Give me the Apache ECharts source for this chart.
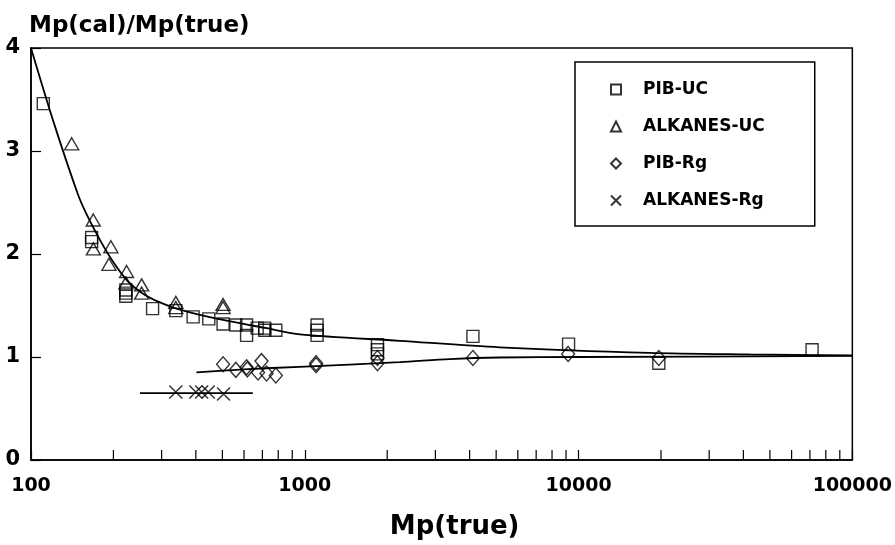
<!DOCTYPE html>
<html lang="en">

<head>
    <meta charset="UTF-8">
    <title>Mp(cal)/Mp(true)</title>
    <style>
        body { margin: 0; background: #fff; }
        #chart { width: 895px; height: 545px; }
    </style>
</head>

<body onload="setup()">
    <div id="chart"></div>
    <script src="https://cdn.jsdelivr.net/npm/echarts@6/dist/echarts.min.js"></script>
    <script>
        // values: [Mp(true), Mp(cal)/Mp(true)]
        var pibUC = [[110.9, 3.46], [166.5, 2.16], [166.5, 2.12], [222, 1.65], [222, 1.62], [222, 1.59],
            [278, 1.47], [338, 1.45], [391, 1.39], [446, 1.37], [503, 1.32], [560, 1.31], [613, 1.31],
            [613, 1.21], [670, 1.28], [714, 1.28], [714, 1.26], [784, 1.26], [1109, 1.31], [1109, 1.26],
            [1109, 1.21], [1843, 1.12], [1843, 1.07], [1843, 1.03], [4113, 1.20], [9194, 1.125],
            [19640, 0.94], [71270, 1.07]]
        var alkanesUC = [[140.8, 3.07], [168.8, 2.33], [169, 2.05], [195.8, 2.07], [192.6, 1.90],
            [223.4, 1.83], [222, 1.72], [253.5, 1.70], [253.5, 1.62], [338, 1.53], [338, 1.48],
            [503, 1.51], [503, 1.48]]
        var pibRg = [[503, 0.93], [560, 0.875], [613, 0.90], [617, 0.88], [675, 0.85], [695, 0.96],
            [725, 0.84], [784, 0.82], [1100, 0.94], [1100, 0.92], [1843, 0.99], [1843, 0.94],
            [4113, 0.99], [9160, 1.03], [19640, 0.99]]
        var alkanesRg = [[338, 0.66], [400, 0.66], [420, 0.66], [444, 0.66], [505, 0.64]]

        // fitted curves
        var fitUC = [[100, 4.0], [120.6, 3.29], [148.8, 2.57], [160, 2.38], [180, 2.12], [200, 1.92],
            [225, 1.74], [255, 1.62], [290, 1.54], [340, 1.47], [414, 1.41], [548, 1.34], [725, 1.28],
            [959, 1.22], [2222, 1.157], [5150, 1.094], [18160, 1.04], [42080, 1.025], [100000, 1.015]]
        var fitPibRg = [[402, 0.85], [600, 0.88], [955, 0.905], [2222, 0.95], [3383, 0.98],
            [5150, 0.995], [10000, 1.0], [100000, 1.01]]
        var fitAlkRg = [[250, 0.65], [646, 0.65]]

        var minorTicks = [200, 300, 400, 500, 600, 700, 800, 900, 2000, 3000, 4000, 5000, 6000, 7000,
            8000, 9000, 20000, 30000, 40000, 50000, 60000, 70000, 80000, 90000]

        var crossPath = 'path://M0,0L10,10M10,0L0,10'
        var font = 'DejaVu Sans'

        var chart

        function setup() {
            chart = echarts.init(document.getElementById('chart'), null, { renderer: 'canvas' })
            chart.setOption(option, true)
        }

        function hollow(w) {
            return { color: 'rgba(0,0,0,0)', borderColor: '#000', borderWidth: w || 1.4 }
        }

        function fitLine(data) {
            return {
                type: 'line',
                data: data,
                smooth: 0.3,
                symbol: 'none',
                silent: true,
                lineStyle: { color: '#000', width: 1.8 },
                z: 1
            }
        }

        var option = {
            backgroundColor: '#fff',
            animation: false,
            title: {
                text: 'Mp(cal)/Mp(true)',
                left: 24,
                top: 10,
                textStyle: { fontFamily: font, fontSize: 23, fontWeight: 'bold', color: '#000' }
            },
            legend: {
                orient: 'vertical',
                left: 575,
                top: 62,
                padding: [19, 50, 17, 35],
                itemGap: 20,
                itemWidth: 10,
                itemHeight: 10,
                borderColor: '#000',
                borderWidth: 1.5,
                textStyle: { fontFamily: font, fontWeight: 'bold', fontSize: 17, color: '#000', padding: [0, 0, 0, 17] },
                data: ['PIB-UC', 'ALKANES-UC', 'PIB-Rg', 'ALKANES-Rg']
            },
            grid: {
                left: 31,
                right: 42,
                top: 48,
                bottom: 73,
                show: true,
                borderColor: '#000',
                borderWidth: 1.5
            },
            xAxis: {
                type: 'log',
                logBase: 10,
                min: 100,
                max: 100000,
                name: 'Mp(true)',
                nameLocation: 'middle',
                nameGap: 54,
                nameTextStyle: { fontFamily: font, fontSize: 26, fontWeight: 'bold', color: '#000', padding: [0, 0, 0, 26] },
                axisLine: { lineStyle: { color: '#000', width: 1.5 } },
                axisTick: { inside: true, length: 10, lineStyle: { color: '#000', width: 1.2 } },
                axisLabel: {
                    fontFamily: font, fontSize: 19, fontWeight: 'bold', color: '#000', margin: 17,
                    formatter: function (v) { return String(Math.round(v)) }
                },
                splitLine: { show: false }
            },
            yAxis: {
                type: 'value',
                min: 0,
                max: 4,
                interval: 1,
                axisLine: { show: true, lineStyle: { color: '#000', width: 1.5 } },
                axisTick: { show: true, inside: true, length: 10, lineStyle: { color: '#000', width: 1.2 } },
                axisLabel: { fontFamily: font, fontSize: 21, fontWeight: 'bold', color: '#000', margin: 11 },
                splitLine: { show: false }
            },
            series: [
                fitLine(fitUC),
                fitLine(fitPibRg),
                fitLine(fitAlkRg),
                {
                    type: 'custom',
                    silent: true,
                    data: minorTicks.map(function (v) { return [v, 0] }),
                    renderItem: function (params, api) {
                        var p = api.coord([api.value(0), 0])
                        return {
                            type: 'line',
                            shape: { x1: p[0], y1: p[1], x2: p[0], y2: p[1] - 10 },
                            style: { stroke: '#000', lineWidth: 1.2 }
                        }
                    },
                    z: 3
                },
                {
                    name: 'PIB-UC',
                    type: 'scatter',
                    symbol: 'rect',
                    symbolSize: 12,
                    itemStyle: hollow(),
                    data: pibUC,
                    z: 2
                },
                {
                    name: 'ALKANES-UC',
                    type: 'scatter',
                    symbol: 'triangle',
                    symbolSize: [14, 12],
                    itemStyle: hollow(),
                    data: alkanesUC,
                    z: 2
                },
                {
                    name: 'PIB-Rg',
                    type: 'scatter',
                    symbol: 'diamond',
                    symbolSize: [13, 15],
                    itemStyle: hollow(),
                    data: pibRg,
                    z: 2
                },
                {
                    name: 'ALKANES-Rg',
                    type: 'scatter',
                    symbol: crossPath,
                    symbolSize: 13,
                    itemStyle: hollow(1.5),
                    data: alkanesRg,
                    z: 2
                }
            ]
        }
    </script>
</body>

</html>
